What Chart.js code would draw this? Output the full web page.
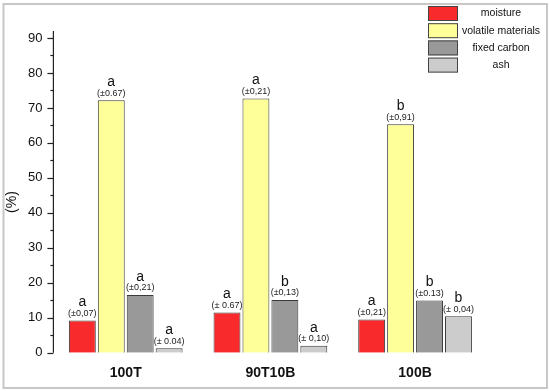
<!DOCTYPE html>
<html>
<head>
<meta charset="utf-8">
<script src="https://cdn.jsdelivr.net/npm/chart.js@4/dist/chart.umd.min.js"></script>
<style>
html,body{margin:0;padding:0;background:#fff;}
#wrap{width:550px;height:391px;position:relative;}
</style>
</head>
<body>
<div id="wrap"><canvas id="c" width="550" height="391"></canvas></div>
<script>
// ---- data ----
const categories = ['100T', '90T10B', '100B'];
const seriesNames = ['moisture', 'volatile materials', 'fixed carbon', 'ash'];
const moisture = [9.2, 11.5, 9.5];
const volatileMaterials = [72.2, 72.7, 65.3];
const fixedCarbon = [16.5, 15.1, 14.9];
const ash = [1.3, 2.0, 10.4];
const moistureLetters = ['a', 'a', 'a'];
const volatileLetters = ['a', 'a', 'b'];
const carbonLetters = ['a', 'b', 'b'];
const ashLetters = ['a', 'a', 'b'];
const moistureErr = ['(±0,07)', '(± 0.67)', '(±0,21)'];
const volatileErr = ['(±0.67)', '(±0,21)', '(±0,91)'];
const carbonErr = ['(±0,21)', '(±0,13)', '(±0.13)'];
const ashErr = ['(± 0.04)', '(± 0,10)', '(± 0,04)'];
const yTicks = [0, 10, 20, 30, 40, 50, 60, 70, 80, 90];

const colors = ['#f82a2c', '#ffff99', '#999999', '#cccccc'];
const FONT = '"Liberation Sans", Arial, sans-serif';

const letters = [moistureLetters, volatileLetters, carbonLetters, ashLetters];
const errs = [moistureErr, volatileErr, carbonErr, ashErr];
const values = [moisture, volatileMaterials, fixedCarbon, ash];

const decor = {
  id: 'decor',
  beforeDraw(chart) {
    const ctx = chart.ctx;
    ctx.save();
    ctx.fillStyle = '#fff';
    ctx.fillRect(0, 0, chart.width, chart.height);
    ctx.strokeStyle = '#c8c8c8';
    ctx.lineWidth = 2;
    ctx.strokeRect(3.5, 4, 543.5, 384);
    ctx.restore();
  },
  afterDraw(chart) {
    const ctx = chart.ctx;
    const y = chart.scales.y;
    const x0 = chart.chartArea.left;
    ctx.save();
    // axis line
    ctx.strokeStyle = '#222';
    ctx.lineWidth = 1.2;
    ctx.beginPath();
    ctx.moveTo(x0, y.getPixelForValue(92));
    ctx.lineTo(x0, y.getPixelForValue(0));
    ctx.stroke();
    // ticks
    for (let v = 0; v <= 90; v += 5) {
      const py = Math.round(y.getPixelForValue(v)) + 0.5;
      const len = (v % 10 === 0) ? 6 : 3;
      ctx.beginPath();
      ctx.moveTo(x0 - len, py);
      ctx.lineTo(x0, py);
      ctx.stroke();
    }
    // y title
    ctx.translate(12, 202);
    ctx.rotate(-Math.PI / 2);
    ctx.fillStyle = '#111';
    ctx.font = '14px ' + FONT;
    ctx.textAlign = 'center';
    ctx.textBaseline = 'middle';
    ctx.fillText('(%)', 0, 0);
    ctx.restore();

    // legend
    ctx.save();
    ctx.textAlign = 'center';
    ctx.textBaseline = 'middle';
    ctx.font = '10.5px ' + FONT;
    chart.data.datasets.forEach((ds, i) => {
      const top = 6 + i * 17.2;
      ctx.fillStyle = ds.backgroundColor;
      ctx.fillRect(428, top, 30, 15);
      ctx.strokeStyle = '#444';
      ctx.lineWidth = 1;
      ctx.strokeRect(428.5, top + 0.5, 29, 14);
      ctx.fillStyle = '#111';
      ctx.fillText(ds.label, 501, top + 7.5);
    });
    ctx.restore();
  },
  afterDatasetsDraw(chart) {
    const ctx = chart.ctx;
    ctx.save();
    ctx.textAlign = 'center';
    chart.data.datasets.forEach((ds, i) => {
      const meta = chart.getDatasetMeta(i);
      meta.data.forEach((bar, j) => {
        ctx.fillStyle = '#222';
        ctx.textBaseline = 'middle';
        ctx.font = '9px ' + FONT;
        ctx.fillText(errs[i][j], bar.x, bar.y - 7);
        ctx.fillStyle = '#111';
        ctx.font = '14px ' + FONT;
        ctx.fillText(letters[i][j], bar.x, bar.y - 18);
      });
    });
    ctx.restore();
  }
};

new Chart(document.getElementById('c'), {
  type: 'bar',
  data: {
    labels: categories,
    datasets: seriesNames.map((name, i) => ({
      label: name,
      data: values[i],
      backgroundColor: colors[i],
      borderColor: '#3a3a3a',
      borderWidth: 1,
      categoryPercentage: 0.8,
      barPercentage: 0.93
    }))
  },
  options: {
    responsive: false,
    animation: false,
    devicePixelRatio: 1,
    layout: { padding: { left: 0, right: 62.6, top: 31, bottom: 0 } },
    plugins: { legend: { display: false }, tooltip: { enabled: false } },
    scales: {
      x: {
        grid: { display: false, drawTicks: false },
        border: { display: false },
        ticks: { color: '#111', font: { family: FONT, size: 14, weight: 'bold' }, padding: 12 },
        afterFit(s) { s.height = 38.3; }
      },
      y: {
        min: 0, max: 92,
        afterBuildTicks(s) { s.ticks = yTicks.map(v => ({ value: v })); },
        grid: { display: false, drawTicks: false },
        border: { display: false },
        ticks: { color: '#111', font: { family: FONT, size: 13 }, padding: 11 },
        afterFit(s) { s.width = 53.4; }
      }
    }
  },
  plugins: [decor]
});
</script>
</body>
</html>
